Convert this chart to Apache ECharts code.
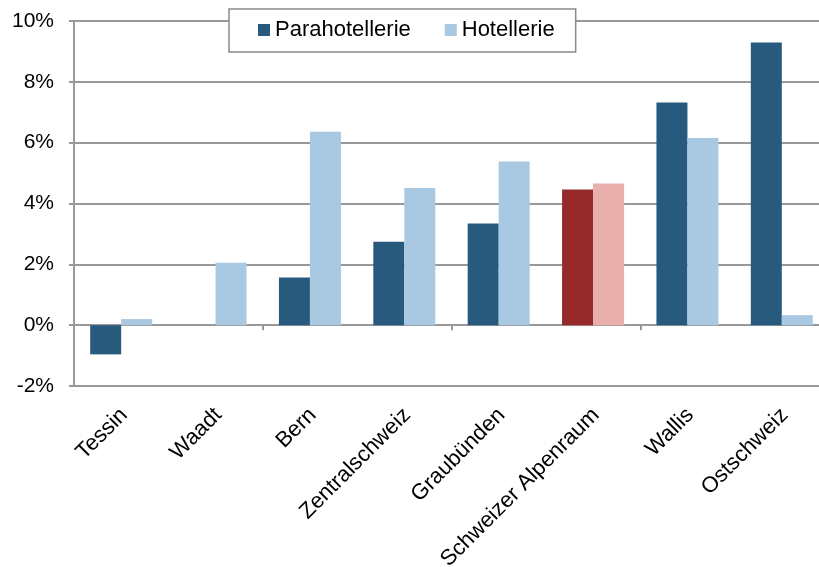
<!DOCTYPE html>
<html>
<head>
<meta charset="utf-8">
<script src="https://cdn.jsdelivr.net/npm/echarts@6/dist/echarts.min.js"></script>
<style>
  html, body { margin: 0; padding: 0; background: #fff; }
  #chart { width: 819px; height: 567px; }
</style>
</head>
<body>
<div id="chart"></div>
<script>
// regions and growth rates (%)
var regions = ['Tessin', 'Waadt', 'Bern', 'Zentralschweiz', 'Graubünden', 'Schweizer Alpenraum', 'Wallis', 'Ostschweiz'];
var parahotellerie = [-0.96, 0, 1.57, 2.74, 3.34, 4.46, 7.32, 9.29];
var hotellerie = [0.2, 2.05, 6.36, 4.51, 5.38, 4.66, 6.15, 0.33];
var highlight = 'Schweizer Alpenraum';

var dark = '#285a7d', light = '#a9c8e2';
var darkHi = '#962a2a', lightHi = '#e8afad';
var gray = '#999999';

var myChart = echarts.init(document.getElementById('chart'));

function mark(values, hiColor) {
	return values.map(function (v, i) {
		if (regions[i] === highlight) {
			return { value: v, itemStyle: { color: hiColor } };
		}
		return v;
	});
}

var option = {
	animation: false,
	textStyle: { fontFamily: 'Liberation Sans, Arial, sans-serif', color: '#000' },
	// plot runs past the right edge of the picture, like the original
	grid: { left: 74, top: 21, height: 365, width: 755, outerBoundsMode: 'none', containLabel: false },
	legend: {
		left: 229, top: 9,
		padding: [10, 21, 11, 29],
		backgroundColor: '#fff',
		borderColor: '#8a8a8a',
		borderWidth: 1.5,
		borderRadius: 0,
		itemWidth: 12, itemHeight: 12,
		itemGap: 34,
		icon: 'rect',
		textStyle: { fontSize: 22, color: '#000' },
		data: ['Parahotellerie', 'Hotellerie']
	},
	xAxis: [
		{
			type: 'category',
			data: regions,
			axisLine: { onZero: true, lineStyle: { color: gray, width: 2 } },
			axisTick: { show: true, length: 5, lineStyle: { color: gray, width: 2 } },
			axisLabel: { show: false }
		},
		{
			type: 'category',
			data: regions,
			position: 'bottom',
			axisLine: { show: false, onZero: false },
			axisTick: { show: false },
			axisLabel: {
				rotate: 45,
				margin: 13,
				padding: [0, 7, 0, 0],
				align: 'right',
				verticalAlign: 'top',
				fontSize: 22,
				color: '#000',
				interval: 0
			}
		}
	],
	yAxis: {
		type: 'value',
		min: -2, max: 10, interval: 2,
		axisLine: { show: true, lineStyle: { color: gray, width: 2 } },
		axisTick: { show: true, length: 5, lineStyle: { color: gray, width: 2 } },
		axisLabel: { formatter: '{value}%', fontSize: 21, color: '#000', margin: 20 },
		splitLine: { show: true, lineStyle: { color: gray, width: 2 } }
	},
	series: [
		{
			name: 'Parahotellerie',
			type: 'bar',
			xAxisIndex: 0,
			barWidth: 31,
			barGap: '0%',
			itemStyle: { color: dark },
			data: mark(parahotellerie, darkHi)
		},
		{
			name: 'Hotellerie',
			type: 'bar',
			xAxisIndex: 0,
			barWidth: 31,
			barGap: '0%',
			itemStyle: { color: light },
			data: mark(hotellerie, lightHi)
		}
	]
};

myChart.setOption(option);
</script>
</body>
</html>
